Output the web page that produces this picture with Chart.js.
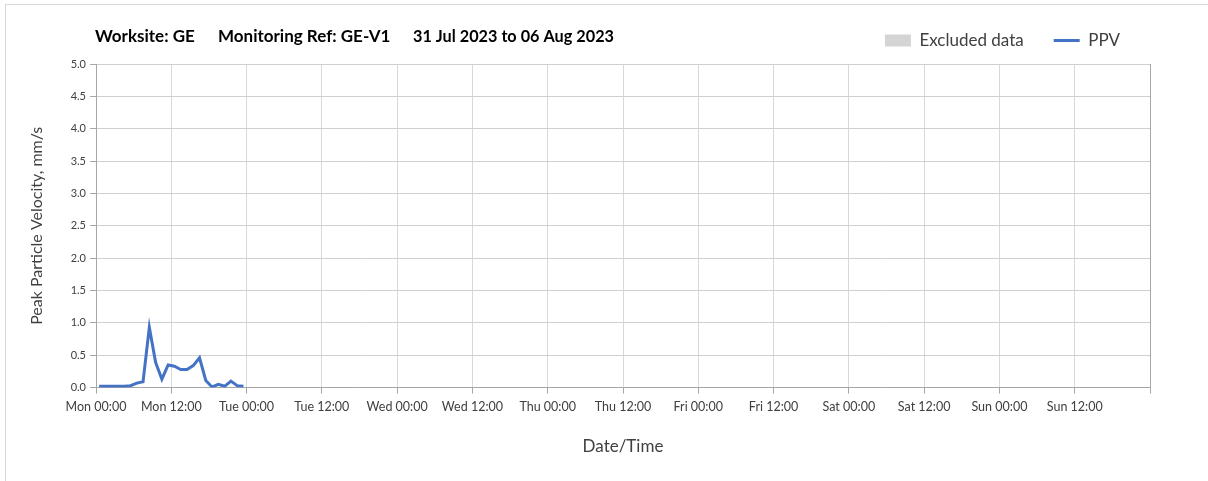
<!DOCTYPE html>
<html>
<head>
<meta charset="utf-8">
<script src="https://cdn.jsdelivr.net/npm/chart.js@4"></script>
<style>
  body { margin: 0; background: #fff; }
  #wrap { position: relative; width: 1208px; height: 481px; overflow: hidden; }
  #frame { position: absolute; left: 5px; top: 4px; width: 1300px; height: 600px;
           border-top: 1px solid #d9d9d9; border-left: 1px solid #d9d9d9; }
  #ppvChart { position: absolute; left: 0; top: 0; }
</style>
</head>
<body>
<div id="wrap">
  <div id="frame"></div>
  <canvas id="ppvChart" width="1208" height="481"></canvas>
</div>
<script>
// x axis runs in hours from Mon 00:00 to the end of Sunday
let tickLabels = [
    "Mon 00:00", "Mon 12:00", "Tue 00:00", "Tue 12:00",
    "Wed 00:00", "Wed 12:00", "Thu 00:00", "Thu 12:00",
    "Fri 00:00", "Fri 12:00", "Sat 00:00", "Sat 12:00",
    "Sun 00:00", "Sun 12:00",
];
let ppvHours = [
    0.5, 1.5, 2.5, 3.5, 4.5, 5.5, 6.5, 7.5, 8.5, 9.5, 10.5, 11.5,
    12.5, 13.5, 14.5, 15.5, 16.5, 17.5, 18.5, 19.5, 20.5, 21.5, 22.5, 23.5,
];
let ppvValues = [
    0.02, 0.02, 0.02, 0.02, 0.02, 0.03, 0.07, 0.09, 0.93, 0.39, 0.13, 0.35,
    0.33, 0.28, 0.28, 0.34, 0.46, 0.11, 0.01, 0.05, 0.02, 0.10, 0.03, 0.02,
];
let excludedValues = [];
let titleParts = ["Worksite: GE", "Monitoring Ref: GE-V1", "31 Jul 2023 to 06 Aug 2023"];

const FONT = "Lato, 'Open Sans', sans-serif";

// heading is written across the top, left-aligned with the plot
const headingPlugin = {
    id: "heading",
    afterDraw(chart) {
        let ctx = chart.ctx;
        let x = chart.chartArea.left - 1;
        let offsets = [0, 123, 318];
        let widths = [103, 174, 201];
        ctx.save();
        ctx.font = "bold 17px " + FONT;
        ctx.fillStyle = "#000000";
        ctx.textBaseline = "middle";
        titleParts.forEach((t, i) => ctx.fillText(t, x + offsets[i], 37, widths[i]));
        ctx.restore();
    },
};

// keep the legend band a fixed height so the plot starts at the same place
const legendBand = {
    id: "legendBand",
    beforeLayout(chart) {
        let lg = chart.legend;
        if (!lg || lg._bandFixed) return;
        let fit = lg.fit;
        lg.fit = function () {
            fit.call(this);
            this.height = 62;
        };
        lg._bandFixed = true;
    },
};

let points = ppvHours.map((h, i) => ({ x: h, y: ppvValues[i] }));

let ctx = document.getElementById("ppvChart").getContext("2d");
window.chart = new Chart(ctx, {
    type: "line",
    data: {
        datasets: [
            {
                label: "Excluded data",
                data: excludedValues,
                backgroundColor: "#d4d4d4",
                borderColor: "#d4d4d4",
                legendStyle: "rect",
            },
            {
                label: "PPV",
                data: points,
                borderColor: "#4472c4",
                backgroundColor: "#4472c4",
                borderWidth: 3,
                pointRadius: 0,
                tension: 0,
                legendStyle: "line",
            },
        ],
    },
    options: {
        responsive: false,
        animation: false,
        layout: { padding: { top: 2, left: 27, right: 58, bottom: 20 } },
        plugins: {
            tooltip: { enabled: false },
            legend: {
                position: "top",
                align: "end",
                labels: {
                    usePointStyle: true,
                    pointStyleWidth: 26,
                    boxHeight: 12,
                    padding: 30,
                    color: "#404040",
                    font: { family: FONT, size: 17 },
                    generateLabels(chart) {
                        return chart.data.datasets.map((ds, i) => ({
                            text: ds.label,
                            fillStyle: ds.backgroundColor,
                            strokeStyle: ds.borderColor,
                            lineWidth: ds.legendStyle == "line" ? 3 : 0,
                            pointStyle: ds.legendStyle,
                            fontColor: "#404040",
                            hidden: false,
                            datasetIndex: i,
                        }));
                    },
                },
            },
        },
        scales: {
            x: {
                type: "linear",
                min: 0,
                max: 168,
                ticks: {
                    stepSize: 12,
                    maxRotation: 0,
                    autoSkip: false,
                    padding: 6,
                    color: "#404040",
                    font: { family: FONT, size: 12.5 },
                    callback: (value, index) => tickLabels[index] || "",
                },
                grid: {
                    color: (c) => (c.tick && c.tick.value == 168 ? "#a6a6a6" : "#d9d9d9"),
                    tickColor: "#a6a6a6",
                    tickLength: 6,
                },
                border: { color: "#a6a6a6" },
                title: {
                    display: true,
                    text: "Date/Time",
                    color: "#404040",
                    font: { family: FONT, size: 17 },
                    padding: { top: 16 },
                },
            },
            y: {
                min: 0,
                max: 5,
                afterFit: (scale) => { scale.width = 69; },
                ticks: {
                    stepSize: 0.5,
                    padding: 4,
                    color: "#404040",
                    font: { family: FONT, size: 11 },
                    callback: (value) => value.toFixed(1),
                },
                grid: {
                    color: "#d0d0d0",
                    tickColor: "#a6a6a6",
                    tickLength: 6,
                },
                border: { color: "#a6a6a6" },
                title: {
                    display: true,
                    text: "Peak Particle Velocity, mm/s",
                    color: "#404040",
                    font: { family: FONT, size: 16 },
                    padding: { top: 0, bottom: 0 },
                },
            },
        },
    },
    plugins: [headingPlugin, legendBand],
});
</script>
</body>
</html>
